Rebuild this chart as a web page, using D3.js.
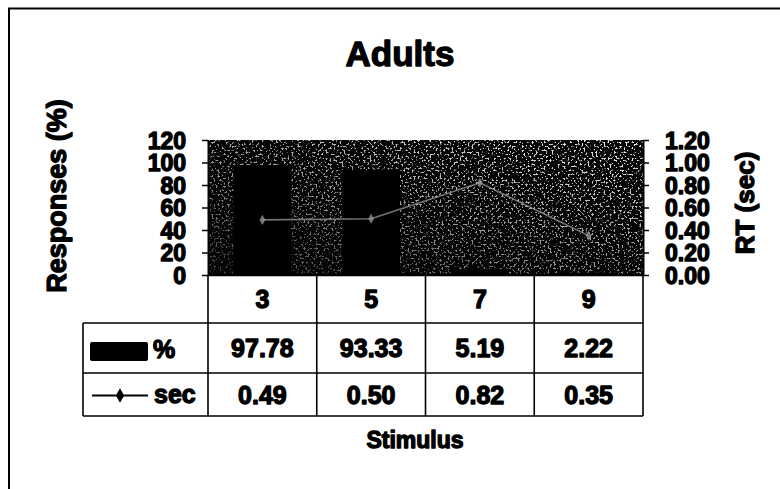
<!DOCTYPE html>
<html>
<head>
<meta charset="utf-8">
<script src="https://cdn.jsdelivr.net/npm/d3@7/dist/d3.min.js"></script>
<style>
  html, body { margin: 0; padding: 0; background: #fff; }
  svg { display: block; font-family: "Liberation Sans", Arial, sans-serif; font-weight: bold; }
  .heavy { stroke: #000; stroke-width: 1.3px; paint-order: stroke; stroke-linejoin: round; }
</style>
</head>
<body>
<svg id="chart" width="780" height="489"></svg>
<script>
// Stimulus categories and the two series shown in the data table
const categories = ["3", "5", "7", "9"];
const percentValues = [97.78, 93.33, 5.19, 2.22];
const secValues = [0.49, 0.50, 0.82, 0.35];
const leftTicks = [0, 20, 40, 60, 80, 100, 120];
const rightTicks = [0, 0.2, 0.4, 0.6, 0.8, 1.0, 1.2];

const svg = d3.select("#chart");

// Frame around the chart
svg.append("path")
  .attr("d", "M9,489 L9,8.5 L780,8.5")
  .attr("fill", "none").attr("stroke", "#000").attr("stroke-width", 2);

// Plot geometry
const plot = { left: 208, right: 643, top: 140, bottom: 275 };

const x = d3.scaleBand().domain(categories).range([plot.left, plot.right]).paddingInner(0.47).paddingOuter(0.235);
const xCell = d3.scaleBand().domain(categories).range([plot.left, plot.right]);
const yL = d3.scaleLinear().domain([0, 120]).range([plot.bottom, plot.top]);
const yR = d3.scaleLinear().domain([0, 1.2]).range([plot.bottom, plot.top]);

// Title
svg.append("text").attr("class", "heavy")
  .attr("x", 400).attr("y", 66).attr("text-anchor", "middle")
  .attr("font-size", 35).text("Adults");

// Plot background: dark grainy fill, lighter toward the top and right
const defs = svg.append("defs");
const speck = defs.append("filter").attr("id", "speck")
  .attr("x", 0).attr("y", 0).attr("width", 1).attr("height", 1);
speck.append("feTurbulence").attr("type", "fractalNoise")
  .attr("baseFrequency", "0.5").attr("numOctaves", 2).attr("seed", 7).attr("result", "n");
speck.append("feColorMatrix").attr("type", "matrix")
  .attr("values", "0 0 0 0 1  0 0 0 0 1  0 0 0 0 1  10 0 0 0 -5.6");
const grad = defs.append("linearGradient").attr("id", "fade")
  .attr("x1", 0).attr("y1", 1).attr("x2", 0.85).attr("y2", 0);
grad.append("stop").attr("offset", "0").attr("stop-color", "#fff").attr("stop-opacity", 0.25);
grad.append("stop").attr("offset", "0.5").attr("stop-color", "#fff").attr("stop-opacity", 0.65);
grad.append("stop").attr("offset", "1").attr("stop-color", "#fff").attr("stop-opacity", 1);
const mask = defs.append("mask").attr("id", "fadeMask");
mask.append("rect").attr("x", plot.left).attr("y", plot.top)
  .attr("width", plot.right - plot.left).attr("height", plot.bottom - plot.top).attr("fill", "url(#fade)");

svg.append("rect")
  .attr("x", plot.left).attr("y", plot.top)
  .attr("width", plot.right - plot.left).attr("height", plot.bottom - plot.top)
  .attr("fill", "#050505");
svg.append("rect")
  .attr("x", plot.left).attr("y", plot.top)
  .attr("width", plot.right - plot.left).attr("height", plot.bottom - plot.top)
  .attr("filter", "url(#speck)").attr("mask", "url(#fadeMask)").attr("opacity", 0.9);

// Bars (% responses)
svg.append("g").selectAll("rect").data(percentValues).join("rect")
  .attr("x", (d, i) => x(categories[i]))
  .attr("y", d => yL(d))
  .attr("width", x.bandwidth())
  .attr("height", d => yL(0) - yL(d))
  .attr("fill", "#000");

// Line (RT in seconds)
const line = d3.line().x((d, i) => xCell(categories[i]) + xCell.bandwidth() / 2).y(d => yR(d));
svg.append("path").datum(secValues)
  .attr("d", line).attr("fill", "none").attr("stroke", "#9a9a9a").attr("stroke-width", 1.6).attr("opacity", 0.75);
svg.append("g").selectAll("path").data(secValues).join("path")
  .attr("transform", (d, i) => `translate(${xCell(categories[i]) + xCell.bandwidth() / 2},${yR(d)})`)
  .attr("d", d3.symbol(d3.symbolDiamond, 30))
  .attr("fill", "#9a9a9a").attr("opacity", 0.75);

// Axes
const axL = svg.append("g").attr("transform", `translate(${plot.left},0)`)
  .call(d3.axisLeft(yL).tickValues(leftTicks).tickFormat(d3.format("d")).tickSizeInner(6).tickSizeOuter(0));
const axR = svg.append("g").attr("transform", `translate(${plot.right},0)`)
  .call(d3.axisRight(yR).tickValues(rightTicks).tickFormat(d3.format(".2f")).tickSizeInner(6).tickSizeOuter(0));
[axL, axR].forEach(ax => {
  ax.select(".domain").attr("stroke", "#000").attr("stroke-width", 2);
  ax.selectAll(".tick line").attr("stroke", "#000").attr("stroke-width", 1.5);
  ax.selectAll(".tick text").attr("class", "heavy")
    .attr("font-size", 23).attr("font-family", "'Liberation Sans', Arial, sans-serif")
    .attr("font-weight", "bold").attr("fill", "#000").attr("dy", "0.36em");
});
axL.selectAll(".tick text").attr("x", -22);
axR.selectAll(".tick text").attr("x", 22);

// Axis titles
svg.append("text").attr("class", "heavy")
  .attr("transform", "translate(66,196) rotate(-90)")
  .attr("text-anchor", "middle").attr("font-size", 27).text("Responses (%)");
svg.append("text").attr("class", "heavy")
  .attr("transform", "translate(754,203) rotate(-90)")
  .attr("text-anchor", "middle").attr("font-size", 26).text("RT (sec)");

// Data table
const rows = { catTop: 275, pctTop: 323, secTop: 373, bottom: 416 };
const legendLeft = 83;
const tbl = svg.append("g").attr("fill", "none").attr("stroke", "#000").attr("stroke-width", 1.6);
// horizontal rules
tbl.append("line").attr("x1", plot.left).attr("x2", plot.right).attr("y1", rows.catTop).attr("y2", rows.catTop).attr("stroke-width", 2.5);
tbl.append("line").attr("x1", legendLeft).attr("x2", plot.right).attr("y1", rows.pctTop).attr("y2", rows.pctTop);
tbl.append("line").attr("x1", legendLeft).attr("x2", plot.right).attr("y1", rows.secTop).attr("y2", rows.secTop);
tbl.append("line").attr("x1", legendLeft).attr("x2", plot.right).attr("y1", rows.bottom).attr("y2", rows.bottom);
// vertical rules
tbl.append("line").attr("x1", legendLeft).attr("x2", legendLeft).attr("y1", rows.pctTop).attr("y2", rows.bottom);
categories.forEach(c => {
  tbl.append("line").attr("x1", xCell(c)).attr("x2", xCell(c)).attr("y1", rows.catTop).attr("y2", rows.bottom);
});
tbl.append("line").attr("x1", plot.right).attr("x2", plot.right).attr("y1", rows.catTop).attr("y2", rows.bottom);

const cellText = (vals, yTop, yBot, fmt) => {
  svg.append("g").selectAll("text").data(vals).join("text")
    .attr("class", "heavy")
    .attr("x", (d, i) => xCell(categories[i]) + xCell.bandwidth() / 2)
    .attr("y", (yTop + yBot) / 2).attr("dy", "0.36em")
    .attr("text-anchor", "middle").attr("font-size", 25)
    .text(fmt);
};
cellText(categories, rows.catTop, rows.pctTop, d => d);
cellText(percentValues, rows.pctTop, rows.secTop, d3.format(".2f"));
cellText(secValues, rows.secTop, rows.bottom, d3.format(".2f"));

// Legend keys in the table
svg.append("rect").attr("x", 90).attr("y", 342).attr("width", 58).attr("height", 19).attr("rx", 2).attr("fill", "#000");
svg.append("text").attr("class", "heavy").attr("x", 153).attr("y", 349).attr("dy", "0.36em")
  .attr("font-size", 25).text("%");
const keyY = (rows.secTop + rows.bottom) / 2 + 1;
svg.append("line").attr("x1", 92).attr("x2", 148).attr("y1", keyY).attr("y2", keyY).attr("stroke", "#000").attr("stroke-width", 1.8);
svg.append("path").attr("transform", `translate(120,${keyY})`).attr("d", d3.symbol(d3.symbolDiamond, 60)).attr("fill", "#000");
svg.append("text").attr("class", "heavy").attr("x", 154).attr("y", keyY - 2).attr("dy", "0.36em")
  .attr("font-size", 25).text("sec");

// Category axis title
svg.append("text").attr("class", "heavy")
  .attr("x", 415).attr("y", 448)
  .attr("text-anchor", "middle").attr("font-size", 23).text("Stimulus");
</script>
</body>
</html>
